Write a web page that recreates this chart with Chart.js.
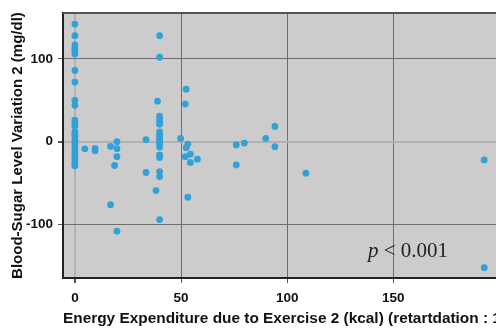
<!DOCTYPE html>
<html>
<head>
<meta charset="utf-8">
<script src="https://cdn.jsdelivr.net/npm/chart.js@4.4.1/dist/chart.umd.min.js"></script>
<style>
  html, body { margin: 0; padding: 0; background: #fff; overflow: hidden; }
  #wrap { position: relative; width: 560px; height: 328px; }
</style>
</head>
<body>
<div id="wrap"><canvas id="sugarChart"></canvas></div>
<script>
// energy expenditure (kcal) and matching blood-sugar variation (mg/dl)
const energyKcal = [
  0, 0, 0, 0, 0, 0, 0, 0, 0, 0, 0, 0, 0, 0, 0, 0, 0, 0, 0, 0, 0, 0, 0, 0, 0,
  4.7, 9.5, 9.5, 16.8, 19.8, 19.8, 19.8, 18.7, 16.8, 19.8, 33.5, 33.5,
  39.9, 39.9, 38.9, 39.9, 39.9, 39.9, 39.9, 39.9, 39.9, 39.9, 39.9, 39.9, 39.9, 39.9, 39.9, 39.9, 39.9, 39.9, 38.2, 39.9,
  49.8, 52.4, 52, 53.2, 52.4, 52, 54.4, 54.4, 57.7, 53.2,
  76, 79.8, 76, 89.9, 94.2, 94.2, 108.8, 192.8, 192.8
];
const sugarVariation = [
  142, 128, 117, 113, 110, 106, 86, 72, 50, 44, 26, 22, 19, 12, 9, 6, 2, -2, -6, -10, -14, -18, -22, -26, -29,
  -8.5, -8, -11, -5.6, 0, -8.4, -18, -28.7, -76, -108, 2.5, -37,
  128, 102, 49, 31, 28, 25, 21, 12, 9, 6, 3, 0, -3, -6.5, -16, -19, -36, -42, -59, -94,
  4, 63.5, 45.5, -2.8, -7.2, -18, -15, -25, -21, -67,
  -3.8, -1.6, -28, 4, 18.5, -6, -38, -22, -152
];
const xTicks = [0, 50, 100, 150];
const yTicks = [-100, 0, 100];
const xTitle = 'Energy Expenditure due to Exercise 2 (kcal) (retartdation : 1)';
const yTitle = 'Blood-Sugar Level Variation 2 (mg/dl)';
const pItalic = 'p';
const pRest = ' < 0.001';
const pAt = [138, -138.6];

const plotFrame = {
  id: 'plotFrame',
  beforeDraw(chart) {
    const { ctx, chartArea: a } = chart;
    ctx.save();
    ctx.fillStyle = '#cccccc';
    ctx.fillRect(a.left, a.top, a.right - a.left, a.bottom - a.top);
    ctx.restore();
  },
  afterDraw(chart) {
    const { ctx, chartArea: a, scales } = chart;
    ctx.save();
    ctx.strokeStyle = '#555';
    ctx.lineWidth = 2;
    ctx.beginPath();
    ctx.moveTo(a.left, a.top);
    ctx.lineTo(a.right, a.top);
    ctx.stroke();

    // p-value note
    const x = scales.x.getPixelForValue(pAt[0]);
    const y = scales.y.getPixelForValue(pAt[1]);
    ctx.fillStyle = '#222';
    ctx.textBaseline = 'alphabetic';
    ctx.textAlign = 'left';
    ctx.font = 'italic 21px "Liberation Serif"';
    ctx.fillText(pItalic, x, y);
    const w = ctx.measureText(pItalic).width;
    ctx.font = '21px "Liberation Serif"';
    ctx.fillText(pRest, x + w, y);
    ctx.restore();
  }
};

const gridColor = c => (c.tick && c.tick.value === 0 ? '#b2b2b2' : '#6e6e6e');
const gridWidth = c => (c.tick && c.tick.value === 0 ? 2 : 1);

new Chart(document.getElementById('sugarChart'), {
  type: 'scatter',
  data: {
    datasets: [{
      data: energyKcal.map((x, i) => ({ x: x, y: sugarVariation[i] })),
      backgroundColor: '#33a0d8',
      borderWidth: 0,
      pointRadius: 3.4
    }]
  },
  options: {
    responsive: true,
    maintainAspectRatio: false,
    devicePixelRatio: 1,
    animation: false,
    layout: { padding: { top: 10, left: 0, right: 0, bottom: 0 } },
    plugins: {
      legend: { display: false },
      tooltip: { enabled: false }
    },
    scales: {
      x: {
        type: 'linear',
        min: -5.6,
        max: 226.6,
        afterBuildTicks: s => { s.ticks = xTicks.map(v => ({ value: v })); },
        afterFit: s => { s.height = 50; },
        grid: { color: gridColor, lineWidth: gridWidth, tickColor: '#555', tickLength: 5 },
        border: { display: true, color: '#222', width: 2 },
        ticks: {
          color: '#111',
          padding: 7,
          maxRotation: 0,
          font: { family: '"Liberation Sans"', weight: 'bold', size: 13.5 }
        },
        title: {
          display: true,
          text: xTitle,
          align: 'start',
          color: '#111',
          padding: { top: 0, bottom: 0 },
          font: { family: '"Liberation Sans"', weight: 'bold', size: 15.4 }
        }
      },
      y: {
        min: -164.5,
        max: 155.3,
        afterBuildTicks: s => { s.ticks = yTicks.map(v => ({ value: v })); },
        afterFit: s => { s.width = 63; },
        grid: { color: gridColor, lineWidth: gridWidth, tickColor: '#555', tickLength: 5 },
        border: { display: true, color: '#222', width: 2 },
        ticks: {
          color: '#111',
          padding: 5,
          font: { family: '"Liberation Sans"', weight: 'bold', size: 13.5 }
        },
        title: {
          display: true,
          text: yTitle,
          color: '#111',
          padding: { top: 9, bottom: 0 },
          font: { family: '"Liberation Sans"', weight: 'bold', size: 15 }
        }
      }
    }
  },
  plugins: [plotFrame]
});
</script>
</body>
</html>
